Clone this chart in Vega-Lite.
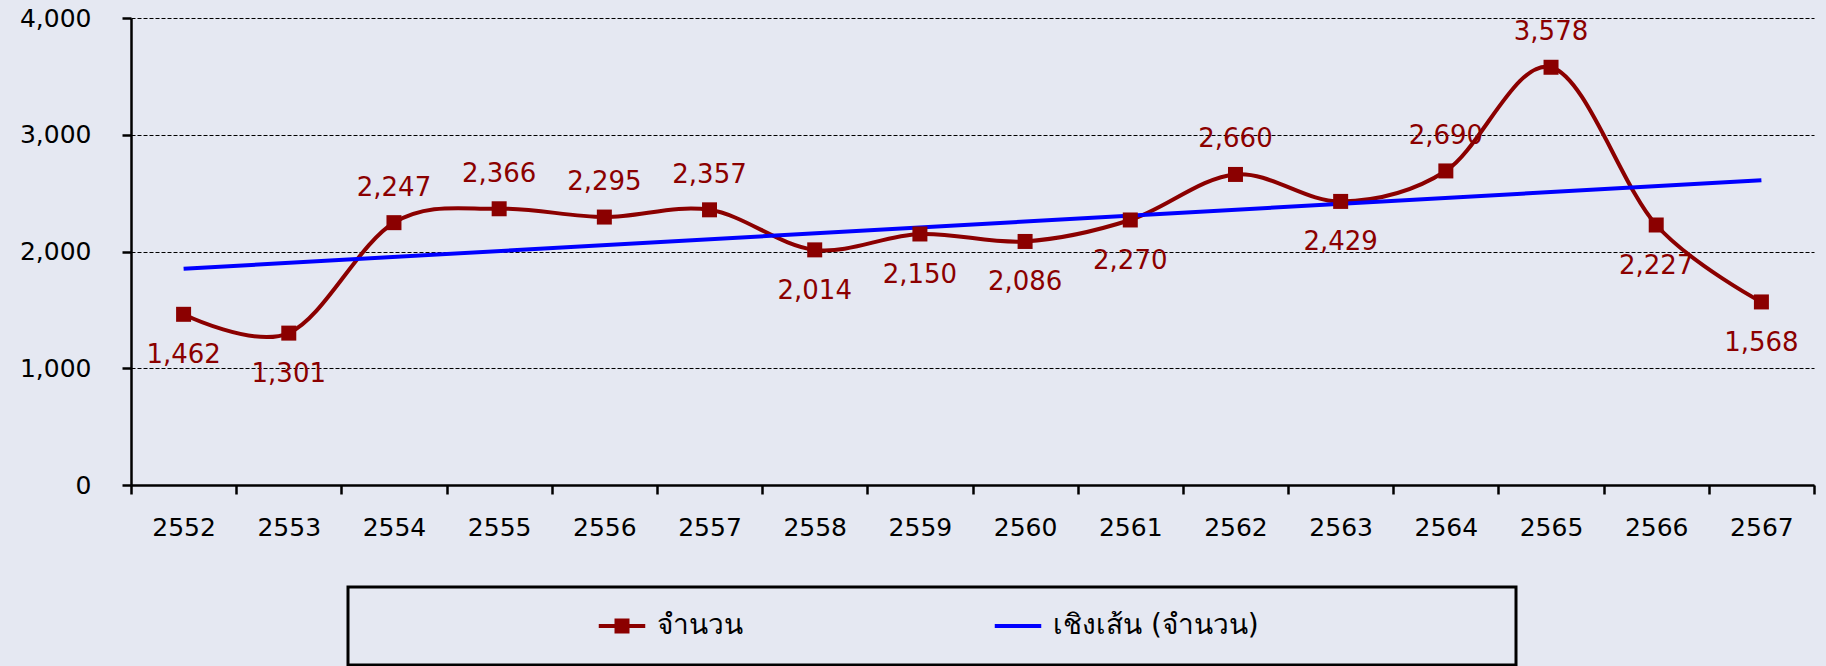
{
  "$schema": "https://vega.github.io/schema/vega-lite/v6.json",
  "autosize": {"type": "none"},
  "width": 1683,
  "height": 467,
  "padding": {"left": 131, "top": 18, "right": 12, "bottom": 181},
  "background": "#e5e8f2",
  "config": {
    "view": {"stroke": null},
    "font": "DejaVu Sans"
  },
  "data": {
    "values": [
      {"year": 2552, "value": 1462},
      {"year": 2553, "value": 1301},
      {"year": 2554, "value": 2247},
      {"year": 2555, "value": 2366},
      {"year": 2556, "value": 2295},
      {"year": 2557, "value": 2357},
      {"year": 2558, "value": 2014},
      {"year": 2559, "value": 2150},
      {"year": 2560, "value": 2086},
      {"year": 2561, "value": 2270},
      {"year": 2562, "value": 2660},
      {"year": 2563, "value": 2429},
      {"year": 2564, "value": 2690},
      {"year": 2565, "value": 3578},
      {"year": 2566, "value": 2227},
      {"year": 2567, "value": 1568}
    ]
  },
  "encoding": {
    "x": {
      "field": "year",
      "type": "ordinal",
      "scale": {"type": "band", "paddingInner": 0, "paddingOuter": 0},
      "axis": {
        "title": null,
        "labelAngle": 0,
        "tickBand": "extent",
        "domainColor": "black",
        "domainWidth": 2.5,
        "tickColor": "black",
        "tickWidth": 2.5,
        "tickSize": 9,
        "labelFont": "DejaVu Sans",
        "labelFontSize": 25,
        "labelColor": "black",
        "labelPadding": 21,
        "grid": false
      }
    },
    "y": {
      "field": "value",
      "type": "quantitative",
      "scale": {"domain": [0, 4000], "nice": false},
      "axis": {
        "title": null,
        "values": [0, 1000, 2000, 3000, 4000],
        "format": ",d",
        "domainColor": "black",
        "domainWidth": 2.5,
        "tickColor": "black",
        "tickWidth": 2.5,
        "tickSize": 9,
        "labelFont": "DejaVu Sans",
        "labelFontSize": 25,
        "labelColor": "black",
        "labelPadding": 31,
        "grid": true,
        "gridColor": "black",
        "gridWidth": 1,
        "gridDash": [4, 2]
      }
    }
  },
  "layer": [
    {
      "mark": {"type": "line", "interpolate": "cardinal", "tension": 0, "strokeWidth": 4},
      "encoding": {
        "color": {
          "datum": "จำนวน",
          "type": "nominal",
          "scale": {"domain": ["จำนวน", "เชิงเส้น (จำนวน)"], "range": ["#8b0000", "#0000ff"]},
          "legend": {
            "orient": "none",
            "legendX": 217,
            "legendY": 569,
            "direction": "horizontal",
            "columns": 2,
            "title": "\u00a0",
            "titleOrient": "left",
            "titleFontSize": 24,
            "titlePadding": 235,
            "padding": 25,
            "columnPadding": 251,
            "strokeColor": "black",
            "symbolSize": 225,
            "symbolStrokeWidth": 0,
            "labelFontSize": 28,
            "labelColor": "black",
            "labelOffset": 21,
            "labelLimit": 1200,
            "labelExpr": "datum.value == 'จำนวน' ? datum.label : datum.label + '\u00a0\u00a0\u00a0\u00a0\u00a0\u00a0\u00a0\u00a0\u00a0\u00a0\u00a0\u00a0\u00a0\u00a0\u00a0\u00a0\u00a0\u00a0\u00a0\u00a0\u00a0\u00a0\u00a0\u00a0\u00a0\u00a0\u200b'",
            "encode": {
              "legend": {"update": {"strokeWidth": {"value": 3}}},
              "symbols": {
                "update": {
                  "shape": {"signal": "datum.value == 'จำนวน' ? 'M-3.1,-0.27H3.1V0.27H-3.1Z M-1,-1H1V1H-1Z' : 'M-3.1,-0.27H3.1V0.27H-3.1Z'"},
                  "fill": {"signal": "scale('color', datum.value)"},
                  "fillOpacity": {"value": 1},
                  "strokeWidth": {"value": 0}
                }
              }
            }
          }
        }
      }
    },
    {
      "transform": [{"regression": "value", "on": "year"}],
      "mark": {"type": "line", "strokeWidth": 4},
      "encoding": {
        "color": {"datum": "เชิงเส้น (จำนวน)", "type": "nominal"}
      }
    },
    {
      "mark": {"type": "point", "shape": "square", "filled": true, "size": 225, "opacity": 1, "color": "#8b0000"}
    },
    {
      "transform": [{"filter": "indexof([2554, 2555, 2556, 2557, 2562, 2564, 2565], datum.year) >= 0"}],
      "mark": {"type": "text", "dy": -35, "baseline": "middle", "font": "DejaVu Sans", "fontSize": 26, "color": "#8b0000"},
      "encoding": {"text": {"field": "value", "type": "quantitative", "format": ","}}
    },
    {
      "transform": [{"filter": "indexof([2554, 2555, 2556, 2557, 2562, 2564, 2565], datum.year) < 0"}],
      "mark": {"type": "text", "dy": 41, "baseline": "middle", "font": "DejaVu Sans", "fontSize": 26, "color": "#8b0000"},
      "encoding": {"text": {"field": "value", "type": "quantitative", "format": ","}}
    }
  ]
}
